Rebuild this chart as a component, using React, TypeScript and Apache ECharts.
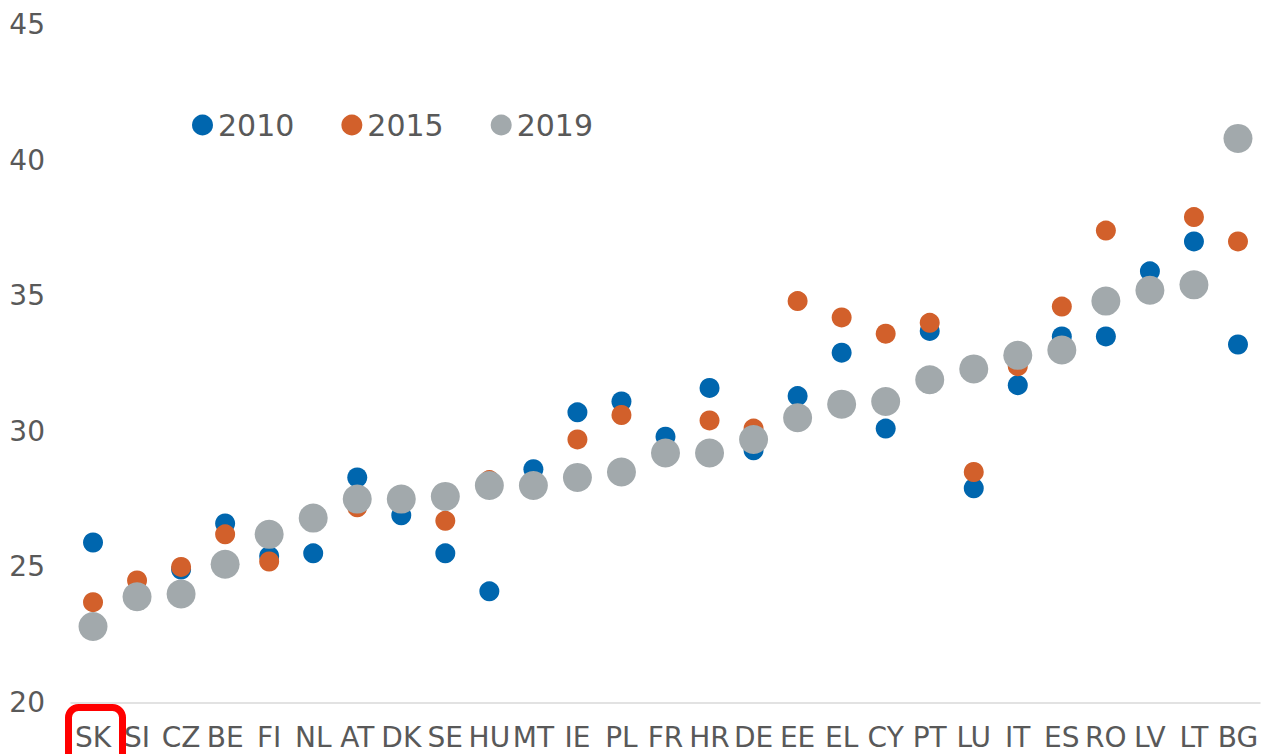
import React, { useEffect, useRef } from "react";
import * as echarts from "echarts";

const categories = ["SK","SI","CZ","BE","FI","NL","AT","DK","SE","HU","MT","IE","PL","FR","HR","DE","EE","EL","CY","PT","LU","IT","ES","RO","LV","LT","BG"];
const yTicks = [20, 25, 30, 35, 40, 45];
const v2010 = [25.9,24.0,24.9,26.6,25.4,25.5,28.3,26.9,25.5,24.1,28.6,30.7,31.1,29.8,31.6,29.3,31.3,32.9,30.1,33.7,27.9,31.7,33.5,33.5,35.9,37.0,33.2];
const v2015 = [23.7,24.5,25.0,26.2,25.2,26.8,27.2,27.5,26.7,28.2,28.0,29.7,30.6,29.2,30.4,30.1,34.8,34.2,33.6,34.0,28.5,32.4,34.6,37.4,35.3,37.9,37.0];
const v2019 = [22.8,23.9,24.0,25.1,26.2,26.8,27.5,27.5,27.6,28.0,28.0,28.3,28.5,29.2,29.2,29.7,30.5,31.0,31.1,31.9,32.3,32.8,33.0,34.8,35.2,35.4,40.8];

const FONT = "DejaVu Sans, Verdana, sans-serif";
const TEXT = "#595959";

export default function App() {
  const ref = useRef<HTMLDivElement>(null);
  useEffect(() => {
    if (!ref.current) return;
    const chart = echarts.init(ref.current, undefined, { renderer: "svg" });
    chart.setOption({
      animation: false,
      textStyle: { fontFamily: FONT },
      grid: { left: 71, right: 3, top: 24.5, bottom: 51.5, containLabel: false },
      legend: {
        left: 187,
        top: 105,
        icon: "circle",
        itemWidth: 21,
        itemHeight: 21,
        itemGap: 47,
        textStyle: { fontSize: 30, color: TEXT, fontFamily: FONT },
        data: ["2010", "2015", "2019"],
      },
      xAxis: {
        type: "category",
        data: categories,
        axisLine: { lineStyle: { color: "#D9D9D9", width: 1.5 } },
        axisTick: { show: false },
        axisLabel: { interval: 0, fontSize: 28, color: TEXT, margin: 21, fontFamily: FONT },
      },
      yAxis: {
        type: "value",
        min: yTicks[0],
        max: yTicks[yTicks.length - 1],
        interval: 5,
        splitLine: { show: false },
        axisLine: { show: false },
        axisTick: { show: false },
        axisLabel: { fontSize: 28, color: TEXT, margin: 26, fontFamily: FONT },
      },
      series: [
        { name: "2010", type: "scatter", data: v2010, symbolSize: 20, itemStyle: { color: "#0066AE", opacity: 1 } },
        { name: "2015", type: "scatter", data: v2015, symbolSize: 20, itemStyle: { color: "#D2602B", opacity: 1 } },
        { name: "2019", type: "scatter", data: v2019, symbolSize: 29, itemStyle: { color: "#A2A9AC", opacity: 1 } },
      ],
      graphic: [
        {
          type: "rect",
          shape: { x: 68.5, y: 707.5, width: 54, height: 60, r: 10 },
          style: { fill: "none", stroke: "#FF0000", lineWidth: 7 },
          z: 100,
        },
      ],
    });
    return () => chart.dispose();
  }, []);
  return <div ref={ref} style={{ position: "fixed", left: 0, top: 0, width: 1263, height: 754, background: "#fff" }} />;
}
